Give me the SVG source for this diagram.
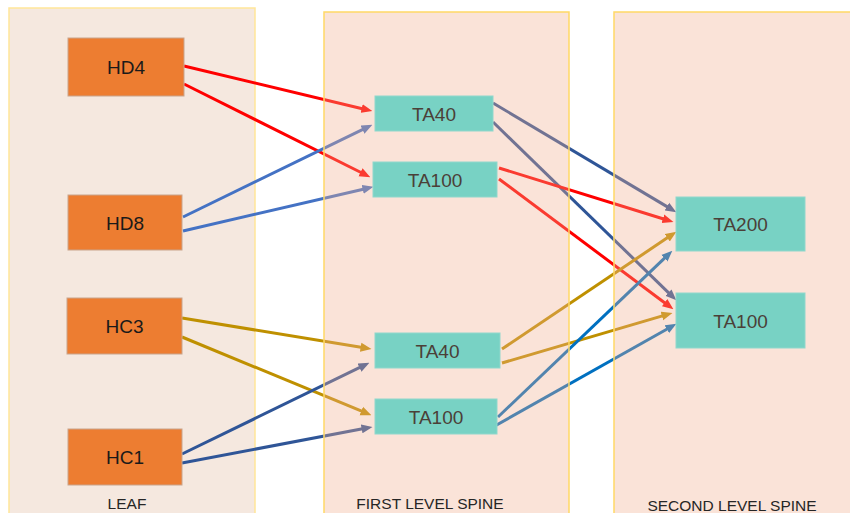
<svg xmlns="http://www.w3.org/2000/svg" width="850" height="513" viewBox="0 0 850 513">
<defs>
<style>
.lbl{font-family:"Liberation Sans",Arial,sans-serif;font-size:15.5px;fill:#262626;text-anchor:middle}
.hn rect{fill:#ED7D31;stroke:#C9A48C;stroke-width:1}
.hn text{font-family:"Liberation Sans",Arial,sans-serif;font-size:19px;fill:#1A1A1A;text-anchor:middle}
.tn rect{fill:#78D2C4;stroke:#8FD8CC;stroke-width:1}
.tn text{font-family:"Liberation Sans",Arial,sans-serif;font-size:19px;fill:#4B4038;text-anchor:middle}
.c line{stroke-width:3;fill:none}
.red{stroke:#FF0000}
.blu{stroke:#4472C4}
.dbl{stroke:#2F5597}
.gld{stroke:#BF9000}
.bbl{stroke:#0070C0}
.tint{fill:#F1AD8D;fill-opacity:0.34;stroke:#FFD966;stroke-width:1.5}
</style>
<marker id="mr" markerUnits="userSpaceOnUse" markerWidth="11" markerHeight="10" viewBox="0 0 11 10" refX="5" refY="5" orient="auto"><path d="M0,0.5 L11,5 L0,9.5 z" fill="#FF0000"/></marker>
<marker id="mb" markerUnits="userSpaceOnUse" markerWidth="11" markerHeight="10" viewBox="0 0 11 10" refX="5" refY="5" orient="auto"><path d="M0,0.5 L11,5 L0,9.5 z" fill="#4472C4"/></marker>
<marker id="md" markerUnits="userSpaceOnUse" markerWidth="11" markerHeight="10" viewBox="0 0 11 10" refX="5" refY="5" orient="auto"><path d="M0,0.5 L11,5 L0,9.5 z" fill="#2F5597"/></marker>
<marker id="mg" markerUnits="userSpaceOnUse" markerWidth="11" markerHeight="10" viewBox="0 0 11 10" refX="5" refY="5" orient="auto"><path d="M0,0.5 L11,5 L0,9.5 z" fill="#BF9000"/></marker>
<marker id="mbb" markerUnits="userSpaceOnUse" markerWidth="11" markerHeight="10" viewBox="0 0 11 10" refX="5" refY="5" orient="auto"><path d="M0,0.5 L11,5 L0,9.5 z" fill="#0070C0"/></marker>
</defs>
<rect width="850" height="513" fill="#FFFFFF"/>
<g id="panel-leaf"><rect x="9" y="8" width="246" height="520" fill="#F5E8DF" stroke="#FFE699" stroke-width="1.5"/></g>
<g id="connectors" class="c">
<line class="red" x1="184" y1="66" x2="366.5" y2="109.7" marker-end="url(#mr)"/>
<line class="red" x1="184" y1="84" x2="365" y2="174.5" marker-end="url(#mr)"/>
<line class="blu" x1="183" y1="217" x2="367" y2="127.4" marker-end="url(#mb)"/>
<line class="blu" x1="183" y1="231" x2="367.6" y2="188.2" marker-end="url(#mb)"/>
<line class="dbl" x1="493" y1="103" x2="671.2" y2="209.1" marker-end="url(#md)"/>
<line class="dbl" x1="493" y1="122" x2="672" y2="296.1" marker-end="url(#md)"/>
<line class="red" x1="499" y1="168" x2="667.7" y2="220.3" marker-end="url(#mr)"/>
<line class="red" x1="499" y1="179" x2="668.6" y2="305.7" marker-end="url(#mr)"/>
<line class="gld" x1="182" y1="318" x2="365.6" y2="348.1" marker-end="url(#mg)"/>
<line class="gld" x1="182" y1="337" x2="365.9" y2="412.9" marker-end="url(#mg)"/>
<line class="dbl" x1="182" y1="454" x2="364" y2="365.4" marker-end="url(#md)"/>
<line class="dbl" x1="182" y1="463" x2="366.6" y2="428" marker-end="url(#md)"/>
<line class="gld" x1="502" y1="349" x2="671.4" y2="235.1" marker-end="url(#mg)"/>
<line class="gld" x1="502" y1="363" x2="666.7" y2="314.6" marker-end="url(#mg)"/>
<line class="bbl" x1="498" y1="417" x2="668" y2="254.8" marker-end="url(#mbb)"/>
<line class="bbl" x1="493" y1="427" x2="671.2" y2="326.7" marker-end="url(#mbb)"/>
</g>
<g id="panel-first"><rect class="tint" x="324" y="12" width="245" height="520"/></g>
<g id="panel-second"><rect class="tint" x="614" y="12" width="260" height="520"/></g>
<g id="HD4" class="hn"><rect x="68" y="38" width="116" height="58"/><text x="126" y="74">HD4</text></g>
<g id="HD8" class="hn"><rect x="68" y="195" width="114" height="55"/><text x="125" y="229.5">HD8</text></g>
<g id="HC3" class="hn"><rect x="67" y="298" width="115" height="56"/><text x="124.5" y="333">HC3</text></g>
<g id="HC1" class="hn"><rect x="68" y="429" width="114" height="56"/><text x="125" y="464">HC1</text></g>
<g id="TA40-1" class="tn"><rect x="375" y="96" width="118" height="35"/><text x="434" y="120.5">TA40</text></g>
<g id="TA100-1" class="tn"><rect x="373" y="162" width="124" height="35"/><text x="435" y="186.5">TA100</text></g>
<g id="TA40-2" class="tn"><rect x="375" y="333" width="125" height="35"/><text x="437.5" y="357.5">TA40</text></g>
<g id="TA100-2" class="tn"><rect x="375" y="399" width="122" height="35"/><text x="436" y="423.5">TA100</text></g>
<g id="TA200" class="tn"><rect x="676" y="197" width="129" height="54"/><text x="740.5" y="231">TA200</text></g>
<g id="TA100-3" class="tn"><rect x="676" y="293" width="129" height="55"/><text x="740.5" y="327.5">TA100</text></g>
<text class="lbl" x="127" y="509">LEAF</text>
<text class="lbl" x="430" y="509">FIRST LEVEL SPINE</text>
<text class="lbl" x="732" y="511">SECOND LEVEL SPINE</text>
</svg>
